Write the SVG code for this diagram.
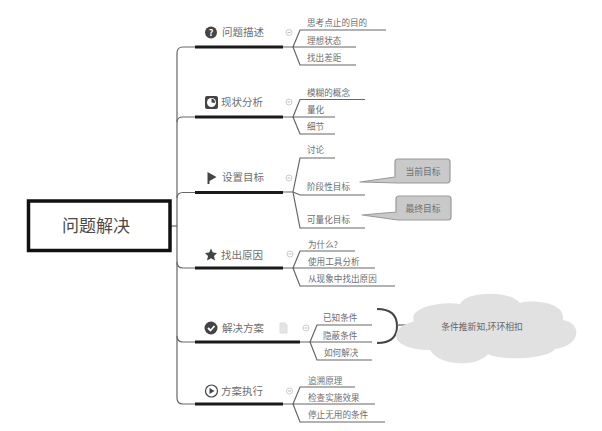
<svg xmlns="http://www.w3.org/2000/svg" width="602" height="431" viewBox="0 0 602 431">
<defs><style>
text{font-family:"Noto Sans CJK SC","Noto Sans",sans-serif;fill:#555}
.m{font-size:10.5px;fill:#6e6e6e}
.s{font-size:8.6px;fill:#6e6e6e}
.c{font-size:8.8px;fill:#707070;text-anchor:middle}
.l{fill:none;stroke:#666;stroke-width:1.2}
.h{fill:none;stroke:#1a1a1a;stroke-width:3}
.cb{fill:#fff;stroke:#ccc;stroke-width:1}
.cm{stroke:#bbb;stroke-width:1}
.ic{fill:#444}
.callout{fill:#c9c9c9;stroke:#999;stroke-width:1.2;stroke-linejoin:round}
</style></defs>
<rect width="602" height="431" fill="#fff"/>
<g id="connectors">
<path class="l" d="M171 226H177"/>
<path class="l" d="M195 47H183Q177 47 177 53V398Q177 404 183 404H195"/>
<path class="l" d="M177 122Q177 117 183 117H195M177 198Q177 192.500 183 192.500H195M177 262Q177 268 183 268H195M177 336Q177 342 183 342H195"/>
<path class="l" d="M283 47H293M283 117H293M283 192H293M283 268H293M300 342H310M283 404H293"/>
<path class="l" d="M386 30H300L293 47L300 65H356M293 47H356"/>
<path class="l" d="M365 99.500H300L293 117L300 134H335M293 117H335"/>
<path class="l" d="M335 158H300L293 192L300 228H365M293 192L300 195H365"/>
<path class="l" d="M355 251H300L293 268L300 286H395M293 268H375"/>
<path class="l" d="M372 325H317L310 342L317 360H372M310 342H372"/>
<path class="l" d="M355 387H300L293 404L300 422H385M293 404H375"/>
<path d="M377 309Q397 309 397 326Q397 343 377 343" fill="none" stroke="#444" stroke-width="2"/>
<path class="l" d="M397 325H406"/>
</g>
<g id="root"><rect x="28.500" y="201" width="141.500" height="49.500" fill="#fff" stroke="#111" stroke-width="3.500"/><text x="96" y="232" font-size="17" text-anchor="middle" style="fill:#4a4a4a">问题解决</text></g>
<g id="n1"><path class="h" d="M195 47H283"/><circle class="ic" cx="211" cy="32.500" r="6"/><text x="211" y="35.500" font-size="9" font-weight="700" text-anchor="middle" style="fill:#fff">?</text><text class="m" x="222" y="36">问题描述</text><circle class="cb" cx="289" cy="32.500" r="3"/><path class="cm" d="M287.500 32.500H290.500"/></g>
<g id="n2"><path class="h" d="M195 117H283"/><rect class="ic" x="205" y="96" width="13" height="13" rx="2"/><circle cx="211.500" cy="102.500" r="4.500" fill="#fff"/><path class="ic" d="M211.500 102.500V98.500A4 4 0 0 1 215 103Z"/><text class="m" x="221" y="106">现状分析</text><circle class="cb" cx="289" cy="102" r="3"/><path class="cm" d="M287.500 102H290.500"/></g>
<g id="n3"><path class="h" d="M195 192.500H283"/><path class="ic" d="M207.500 172L216.500 177L209.500 181V184H207.500Z"/><text class="m" x="222" y="181">设置目标</text><circle class="cb" cx="289" cy="178" r="3"/><path class="cm" d="M287.500 178H290.500"/></g>
<g id="n4"><path class="h" d="M195 268H283"/><path class="ic" d="M211 248.500L212.800 252.500L217 253L214 256L215 260.500L211 258.200L207 260.500L208 256L205 253L209.200 252.500Z"/><text class="m" x="221" y="259">找出原因</text><circle class="cb" cx="290" cy="254" r="3"/><path class="cm" d="M288.500 254H291.500"/></g>
<g id="n5"><path class="h" d="M195 342H300"/><circle class="ic" cx="211" cy="328" r="6.500"/><path d="M208 328L210.500 330.500L214.500 326" fill="none" stroke="#fff" stroke-width="1.800"/><text class="m" x="222" y="332">解决方案</text><path d="M280 323H285L287 325V333H280Z" fill="#e4e4e4" stroke="#ddd" stroke-width="1"/><circle class="cb" cx="306" cy="328" r="3"/><path class="cm" d="M304.500 328H307.500"/></g>
<g id="n6"><path class="h" d="M195 404H283"/><circle cx="211.500" cy="391" r="6" fill="#fff" stroke="#444" stroke-width="1.200"/><path class="ic" d="M209.500 388L214.500 391L209.500 394Z"/><text class="m" x="221" y="395">方案执行</text><circle class="cb" cx="289.500" cy="391" r="3"/><path class="cm" d="M288 391H291"/></g>
<g id="children">
<text class="s" x="307" y="26">思考点止的目的</text>
<text class="s" x="307" y="44">理想状态</text>
<text class="s" x="307" y="61">找出差距</text>
<text class="s" x="307" y="96">模糊的概念</text>
<text class="s" x="307" y="113">量化</text>
<text class="s" x="307" y="130">细节</text>
<text class="s" x="307" y="153">讨论</text>
<text class="s" x="307" y="190">阶段性目标</text>
<text class="s" x="307" y="223">可量化目标</text>
<text class="s" x="308" y="248">为什么?</text>
<text class="s" x="308" y="265">使用工具分析</text>
<text class="s" x="308" y="282">从现象中找出原因</text>
<text class="s" x="323" y="321">已知条件</text>
<text class="s" x="323" y="339">隐蔽条件</text>
<text class="s" x="324" y="356">如何解决</text>
<text class="s" x="308" y="384">追溯原理</text>
<text class="s" x="308" y="401">检查实施效果</text>
<text class="s" x="308" y="418">停止无用的条件</text>
</g>
<g id="callout1"><path class="callout" d="M360 182L395 177V162Q395 159 398 159H447Q450 159 450 162V180Q450 183 447 183H398Z"/><text class="c" x="423" y="175">当前目标</text></g>
<g id="callout2"><path class="callout" d="M362 215L396 212V199Q396 196 399 196H448Q451 196 451 199V217Q451 220 448 220H398Z"/><text class="c" x="423" y="212">最终目标</text></g>
<g id="cloud"><path d="M414 321C408 308 440 301 460 304C466 291 510 290 520 303C535 299 566 303 563 320C582 323 582 345 555 349C550 358 505 362 488 354C478 367 440 367 430 350C405 350 388 340 400 328C404 324 410 323 414 321Z" fill="#e1e1e1"/><text x="482" y="330" font-size="8.800" text-anchor="middle" style="fill:#666">条件推新知,环环相扣</text></g>
</svg>
